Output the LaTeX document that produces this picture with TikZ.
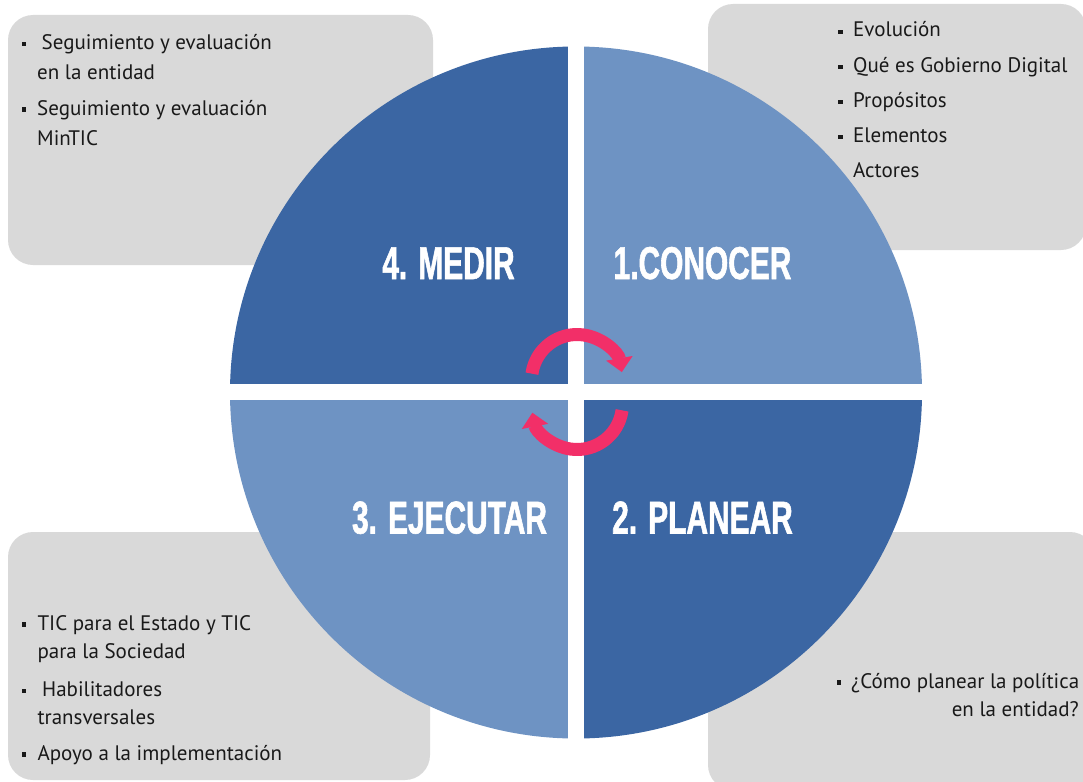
\documentclass[tikz,border=0pt]{standalone}
\usepackage{fontspec}
\setmainfont{PT Sans}
\newfontfamily\titlefont{Liberation Sans}[FakeStretch=0.65,FakeBold=1.2]
\usetikzlibrary{arrows.meta}
\definecolor{darkq}{HTML}{3B66A3}
\definecolor{lightq}{HTML}{6E93C3}
\definecolor{boxgray}{HTML}{D9D9D9}
\definecolor{arrowpink}{HTML}{F22F68}
\tikzset{
  panel/.style={fill=boxgray, rounded corners=25},
  txt/.style={anchor=base west, inner sep=0, font=\fontsize{21}{25}\selectfont, text=black!90},
  txtr/.style={anchor=base east, inner sep=0, font=\fontsize{21}{25}\selectfont, text=black!90},
  bul/.style={fill=black!90, minimum size=4.5, inner sep=0},
  title/.style={anchor=base, inner sep=0, text=white, font=\titlefont\bfseries\fontsize{46}{46}\selectfont},
  cyc/.style={draw=arrowpink, line width=13, -{Triangle[width=26pt,length=14pt]}}
}
\begin{document}
\begin{tikzpicture}[x=1pt,y=-1pt]
\useasboundingbox (0,0) rectangle (1083,781);
\clip (0,0) rectangle (1083,781);
% panels
\fill[panel] (8,15) rectangle (433,265);
\fill[panel] (708,4) rectangle (1086,250);
\fill[panel] (8,532) rectangle (430,780);
\fill[panel] (708,532) rectangle (1095,790);
% circle quadrants
\fill[darkq]  (576,392.5) -- (230,392.5) arc[start angle=180, end angle=270, radius=346] -- cycle;
\fill[lightq] (576,392.5) -- (576,46.5) arc[start angle=270, end angle=360, radius=346] -- cycle;
\fill[darkq]  (576,392.5) -- (922,392.5) arc[start angle=0, end angle=90, radius=346] -- cycle;
\fill[lightq] (576,392.5) -- (576,738.5) arc[start angle=90, end angle=180, radius=346] -- cycle;
\draw[white, line width=16] (576,40) -- (576,745);
\draw[white, line width=16] (224,392) -- (928,392);
% titles
\node[title] (medir) at (448.5,279) {4. MEDIR};
\node[title] (conocer) at (702.5,279) {1.CONOCER};
\node[title] (ejecutar) at (449.5,533.5) {3. EJECUTAR};
\node[title] (planear) at (702.5,533.5) {2. PLANEAR};
% cycle arrows
\draw[cyc] ([shift={(188:45.5)}]577,380) arc[start angle=188, end angle=350, radius=45.5];
\draw[cyc] ([shift={(8:45.5)}]577,404) arc[start angle=8, end angle=169, radius=45.5];
% top-left text
\node[bul] (b1) at (24,44) {};
\node[txt] (t1) at (41.5,50) {Seguimiento y evaluación};
\node[txt] (t2) at (37,80) {en la entidad};
\node[bul] (b2) at (24,109.5) {};
\node[txt] (t3) at (37,115) {Seguimiento y evaluación};
\node[txt] (t4) at (37,145) {MinTIC};
% top-right text
\node[bul] (b3) at (840.5,32) {};
\node[txt] (r1) at (853,36.7) {Evolución};
\node[bul] (b4) at (840.5,67) {};
\node[txt] (r2) at (853,72.7) {Qué es Gobierno Digital};
\node[bul] (b5) at (840.5,102) {};
\node[txt] (r3) at (853,107.7) {Propósitos};
\node[bul] (b6) at (840.5,137) {};
\node[txt] (r4) at (853,142.7) {Elementos};
\node[txt] (r5) at (853,177.3) {Actores};
% bottom-left text
\node[bul] (b7) at (24,624.5) {};
\node[txt] (l1) at (37.3,630) {TIC para el Estado y TIC};
\node[txt] (l2) at (37.3,658.3) {para la Sociedad};
\node[bul] (b8) at (24,691) {};
\node[txt] (l3) at (42,696.7) {Habilitadores};
\node[txt] (l4) at (37.3,724) {transversales};
\node[bul] (b9) at (24,754.5) {};
\node[txt] (l5) at (37.3,760) {Apoyo a la implementación};
% bottom-right text
\node[bul] (b10) at (839,682.5) {};
\node[txt] (p1) at (851,688) {¿Cómo planear la política};
\node[txtr] (p2) at (1079,716.7) {en la entidad?};
\end{tikzpicture}
\end{document}
